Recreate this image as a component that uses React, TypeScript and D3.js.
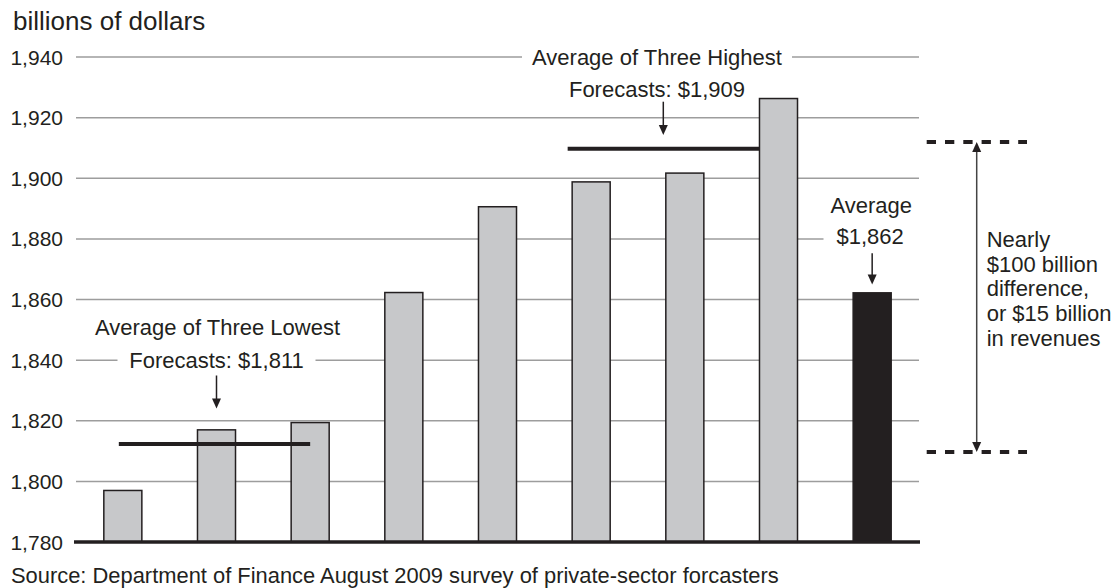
import React from "react";
import * as d3 from "d3";

// ---- data ----
const forecasters = ["F1", "F2", "F3", "F4", "F5", "F6", "F7", "F8", "Average"];
const forecastValues = [1797, 1817, 1819.4, 1862.3, 1890.6, 1898.8, 1901.7, 1926.3, 1862.2];
const yTicks = [1780, 1800, 1820, 1840, 1860, 1880, 1900, 1920, 1940];
const lowestAvgValue = 1812.3;
const highestAvgValue = 1909.7;
const lowestAvgLabel = "Forecasts: $1,811";
const highestAvgLabel = "Forecasts: $1,909";
const averageLabel = "$1,862";
const rangeTop = 1912;
const rangeBottom = 1809.7;
const noteLines = ["Nearly", "$100 billion", "difference,", "or $15 billion", "in revenues"];
const unitLabel = "billions of dollars";
const sourceText = "Source: Department of Finance August 2009 survey of private-sector forcasters";

const INK = "#231f20";
const GRID = "#9d9d9d";
const BAR = "#c7c8ca";
const FONT = "'Liberation Sans', Arial, Helvetica, sans-serif";

function Arrow({ x, y1, y2, color = INK }: { x: number; y1: number; y2: number; color?: string }) {
  // arrow pointing down from y1 to tip y2
  return (
    <g>
      <line x1={x} x2={x} y1={y1} y2={y2 - 8} stroke={color} strokeWidth={1.5} />
      <path d={`M${x - 4.5},${y2 - 10} L${x + 4.5},${y2 - 10} L${x},${y2} Z`} fill={color} />
    </g>
  );
}

export default function App() {
  const W = 1117;
  const H = 588;
  const y = d3.scaleLinear().domain([1780, 1940]).range([542, 57]);
  const x = d3
    .scaleBand<string>()
    .domain(forecasters)
    .range([76, 919])
    .paddingInner(0.594)
    .paddingOuter(0.297);
  const bw = x.bandwidth();
  const fmt = d3.format(",");

  const cx = (i: number) => (x(forecasters[i]) as number) + bw / 2;

  // annotation anchors
  const lowCx = cx(1);
  const highCx = 657;
  const avgCx = cx(8);

  const lowTextW = 178;
  const highTitleW = 254;

  const bracketX = 976.7;
  const dashX1 = 926.7;
  const dashX2 = 1027;

  return (
    <svg
      width={W}
      height={H}
      style={{ position: "absolute", left: 0, top: 0, background: "#fff" }}
      fontFamily={FONT}
    >
      <rect x={0} y={0} width={W} height={H} fill="#fff" />
      {/* unit label */}
      <text x={13} y={29.5} fontSize={26} fill={INK}>
        {unitLabel}
      </text>

      {/* gridlines */}
      {yTicks.slice(1).map((t) => (
        <line key={t} x1={76} x2={919} y1={y(t)} y2={y(t)} stroke={GRID} strokeWidth={1.5} />
      ))}

      {/* tick labels */}
      {yTicks.map((t) => (
        <text key={t} x={63} y={y(t) + 7.5} fontSize={21} textAnchor="end" fill={INK}>
          {fmt(t)}
        </text>
      ))}

      {/* white knockouts behind text on gridlines */}
      <rect x={lowCx - lowTextW / 2 - 10} y={y(1840) - 4} width={lowTextW + 20} height={8} fill="#fff" />
      <rect x={highCx - highTitleW / 2 - 8} y={y(1940) - 4} width={highTitleW + 16} height={8} fill="#fff" />
      <rect x={823.5} y={y(1880) - 4} width={95.5} height={8} fill="#fff" />

      {/* bars */}
      {forecastValues.map((v, i) => {
        const isAvg = i === forecastValues.length - 1;
        return (
          <rect
            key={i}
            x={x(forecasters[i]) as number}
            y={y(v)}
            width={bw}
            height={y(1780) - y(v)}
            fill={isAvg ? INK : BAR}
            stroke={INK}
            strokeWidth={1.5}
          />
        );
      })}

      {/* baseline */}
      <line x1={74} x2={920} y1={y(1780)} y2={y(1780)} stroke={INK} strokeWidth={3.5} />

      {/* average of three lowest */}
      <line
        x1={(x(forecasters[0]) as number) + 15}
        x2={cx(2)}
        y1={y(lowestAvgValue)}
        y2={y(lowestAvgValue)}
        stroke={INK}
        strokeWidth={4}
      />
      <text x={lowCx + 1} y={335} fontSize={22} textAnchor="middle" fill={INK}>
        Average of Three Lowest
      </text>
      <text x={lowCx} y={368} fontSize={22} textAnchor="middle" fill={INK}>
        {lowestAvgLabel}
      </text>
      <Arrow x={lowCx} y1={375.5} y2={408.5} />

      {/* average of three highest */}
      <line
        x1={(x(forecasters[5]) as number) - 4.5}
        x2={x(forecasters[7]) as number}
        y1={y(highestAvgValue)}
        y2={y(highestAvgValue)}
        stroke={INK}
        strokeWidth={4}
      />
      <text x={highCx} y={65} fontSize={22} textAnchor="middle" fill={INK}>
        Average of Three Highest
      </text>
      <text x={highCx} y={96.7} fontSize={22} textAnchor="middle" fill={INK}>
        {highestAvgLabel}
      </text>
      <Arrow x={663.3} y1={101.7} y2={135} />

      {/* overall average */}
      <text x={avgCx - 1} y={213.3} fontSize={22} textAnchor="middle" fill={INK}>
        Average
      </text>
      <text x={avgCx - 2} y={244} fontSize={22} textAnchor="middle" fill={INK}>
        {averageLabel}
      </text>
      <Arrow x={avgCx} y1={253.3} y2={284.5} />

      {/* range bracket */}
      <line
        x1={dashX1}
        x2={dashX2}
        y1={y(rangeTop)}
        y2={y(rangeTop)}
        stroke={INK}
        strokeWidth={4}
        strokeDasharray="9.3 9"
      />
      <line
        x1={dashX1}
        x2={dashX2}
        y1={y(rangeBottom)}
        y2={y(rangeBottom)}
        stroke={INK}
        strokeWidth={4}
        strokeDasharray="9.3 9"
      />
      <line
        x1={bracketX}
        x2={bracketX}
        y1={y(rangeTop) + 8}
        y2={y(rangeBottom) - 8}
        stroke="#444"
        strokeWidth={1.5}
      />
      <path
        d={`M${bracketX - 4.5},${y(rangeTop) + 10} L${bracketX + 4.5},${y(rangeTop) + 10} L${bracketX},${y(rangeTop)} Z`}
        fill={INK}
      />
      <path
        d={`M${bracketX - 4.5},${y(rangeBottom) - 10} L${bracketX + 4.5},${y(rangeBottom) - 10} L${bracketX},${y(rangeBottom)} Z`}
        fill={INK}
      />
      {noteLines.map((l, i) => (
        <text key={i} x={986.7} y={246.7 + i * 24.8} fontSize={22} fill={INK}>
          {l}
        </text>
      ))}

      {/* source */}
      <text x={11} y={582.5} fontSize={21.9} fill={INK}>
        {sourceText}
      </text>
    </svg>
  );
}
